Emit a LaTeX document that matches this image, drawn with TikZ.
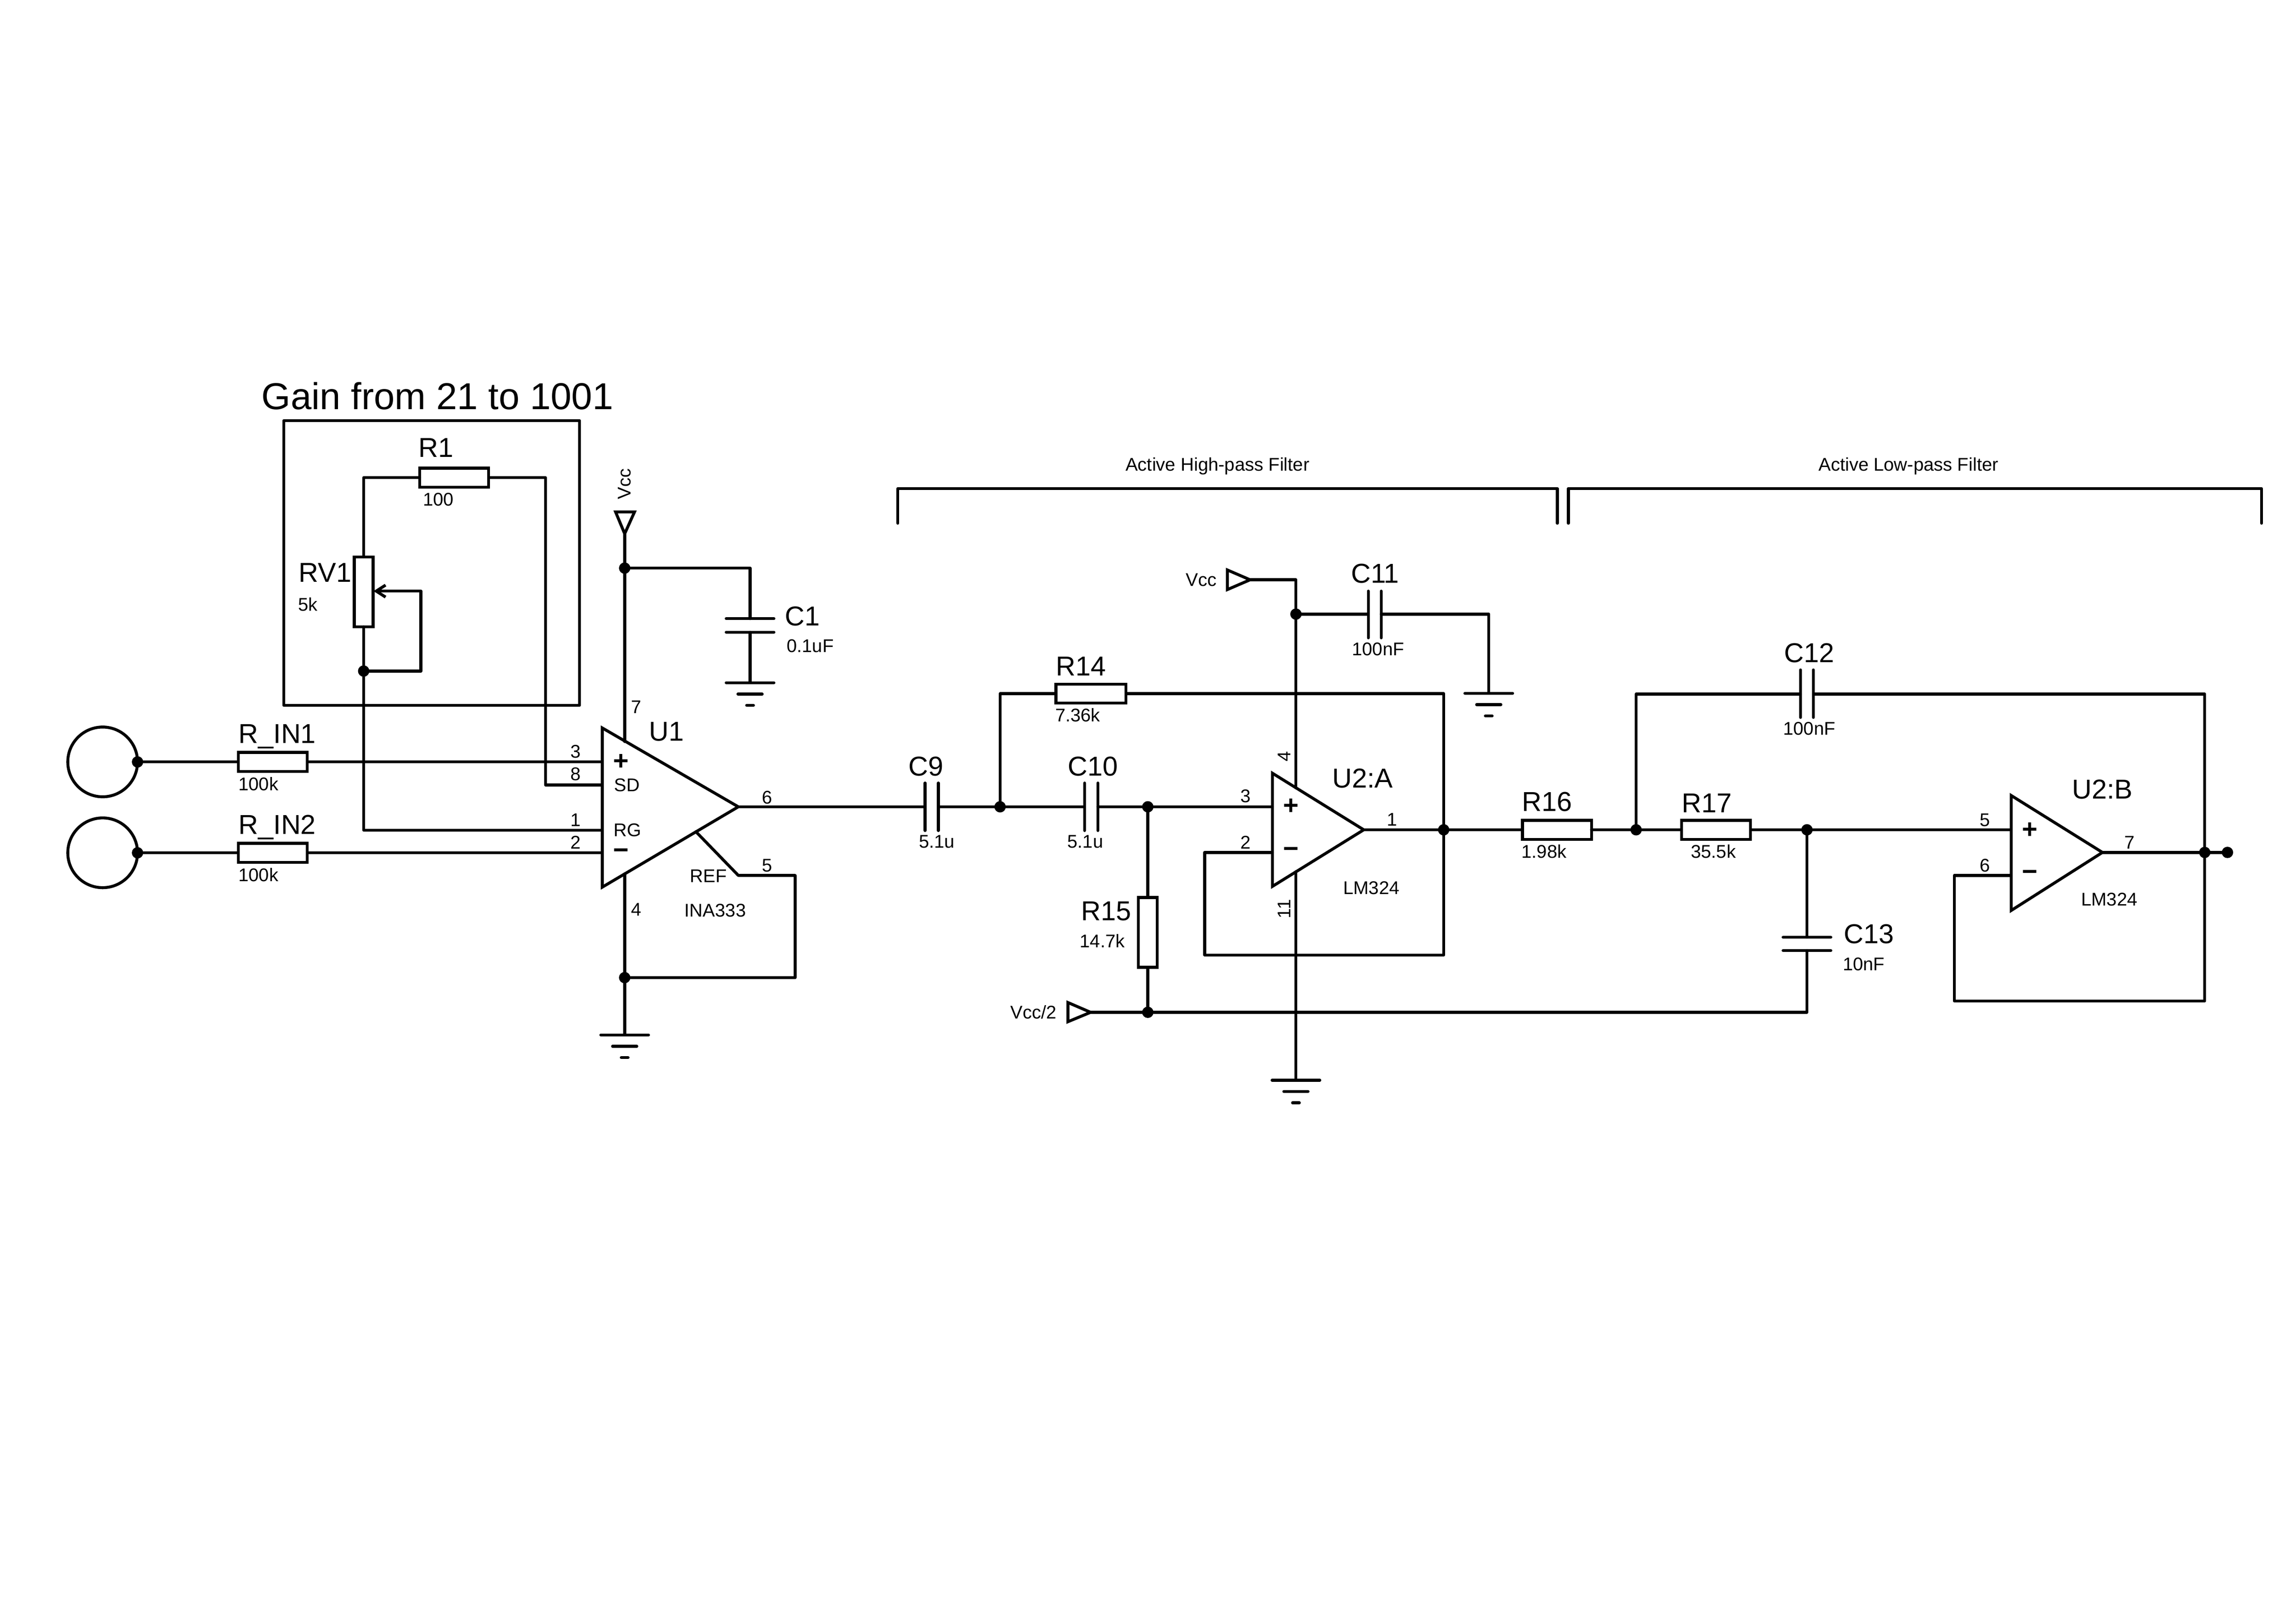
\documentclass[tikz,border=0pt]{standalone}
\usepackage{fontspec}
\setmainfont{Liberation Sans}
\usetikzlibrary{arrows.meta,calc}
\tikzset{
  wire/.style={line width=2.2pt,line cap=round,line join=round},
  res/.style={draw,line width=2.2pt,minimum width=1.82cm,minimum height=.5cm,inner sep=0pt,outer sep=0pt},
  vres/.style={draw,line width=2.2pt,minimum width=.5cm,minimum height=1.84cm,inner sep=0pt,outer sep=0pt},
  dotn/.style={circle,fill=black,minimum size=.3cm,inner sep=0pt,outer sep=0pt},
  ring/.style={circle,draw,line width=2.2pt,minimum size=1.84cm,inner sep=0pt,outer sep=0pt},
  bigt/.style={inner sep=0pt,yshift=.06cm,font=\fontsize{20.5}{24}\selectfont},
  smallt/.style={inner sep=0pt,yshift=.03cm,font=\fontsize{13.8}{16}\selectfont},
  titlet/.style={inner sep=0pt,font=\fontsize{28.1}{32}\selectfont},
  pmark/.style={inner sep=0pt,font=\bfseries\fontsize{20}{22}\selectfont},
}
% vertical plates, current runs left to right
\newcommand\capH[6]{% name, x1, x2, y, top, bottom
  \coordinate (#1a) at (#2,#4); \coordinate (#1b) at (#3,#4);
  \draw[wire] (#2,#5) -- (#2,#6); \draw[wire] (#3,#5) -- (#3,#6);}
% horizontal plates, current runs top to bottom
\newcommand\capV[6]{% name, x, y1, y2, left, right
  \coordinate (#1a) at (#2,#3); \coordinate (#1b) at (#2,#4);
  \draw[wire] (#5,#3) -- (#6,#3); \draw[wire] (#5,#4) -- (#6,#4);}
\newcommand\gnd[1]{%
  \draw[wire] (#1) ++(-63,0) -- ++(126,0);
  \draw[wire] (#1) ++(-32,30) -- ++(64,0);
  \draw[wire] (#1) ++(-9,60) -- ++(18,0);}
\begin{document}
\begin{tikzpicture}[x=0.01cm,y=-0.00995cm]
\useasboundingbox (0,-5.53) rectangle (6061,4276.9);
\fill[white] (0,-5.53) rectangle (6061,4276.9);

% ---------- gain box
\node[titlet] (gain) at (1155,1045) {Gain from 21 to 1001};
\draw[wire] (749,1110) rectangle (1530,1865);

% ---------- resistors
\node[res] (R1) at (1199,1261) {};
\node[res] (RIN1) at (720,2015) {};
\node[res] (RIN2) at (720,2256) {};
\node[vres] (RV1) at (960,1564) {};
\node[res,minimum width=1.85cm] (R14) at (2880,1834) {};
\node[vres] (R15) at (3030,2467) {};
\node[res] (R16) at (4110,2195) {};
\node[res] (R17) at (4530,2195) {};

% ---------- sources
\node[ring] (S1) at (271,2015) {};
\node[ring] (S2) at (271,2256) {};
\node[dotn] (dS1) at (S1.east) {};
\node[dotn] (dS2) at (S2.east) {};

% ---------- U1
\coordinate (U1t) at (1590,1925);
\coordinate (U1b) at (1590,2347);
\coordinate (U1o) at (1949,2134);
\draw[wire,line join=miter] (U1t) -- (U1o) -- (U1b) -- cycle;
\coordinate (U1p3) at (1590,2015);
\coordinate (U1p8) at (1590,2076);
\coordinate (U1p1) at (1590,2196);
\coordinate (U1p2) at (1590,2256);
\coordinate (U1p7) at (1649,1961);
\coordinate (U1p4) at (1649,2312);
\coordinate (U1p5) at (1837,2200);

% ---------- U2A
\coordinate (UAt) at (3359,2045);
\coordinate (UAb) at (3359,2345);
\coordinate (UAo) at (3600,2195);
\draw[wire,line join=miter] (UAt) -- (UAo) -- (UAb) -- cycle;
\coordinate (UAp3) at (3359,2134);
\coordinate (UAp2) at (3359,2255);
\coordinate (UAp4) at (3421,2084);
\coordinate (UAp11) at (3421,2306);

% ---------- U2B
\coordinate (UBt) at (5309,2104);
\coordinate (UBb) at (5309,2409);
\coordinate (UBo) at (5550,2255);
\draw[wire,line join=miter] (UBt) -- (UBo) -- (UBb) -- cycle;
\coordinate (UBp5) at (5309,2195);
\coordinate (UBp6) at (5309,2316);

% ---------- capacitors
\capV{C1}{1980}{1635}{1671}{1917}{2043}
\capH{C9}{2442}{2477}{2134}{2071}{2197}
\capH{C10}{2863}{2898}{2134}{2071}{2197}
\capH{C11}{3612}{3646}{1623}{1562}{1686}
\capH{C12}{4753}{4787}{1835}{1771}{1897}
\capV{C13}{4770}{2480}{2515}{4707}{4833}

% ---------- supply flags
\coordinate (VU1tl) at (1625,1352); \coordinate (VU1tr) at (1675,1352); \coordinate (VU1) at (1649,1410);
\draw[wire,line join=miter] (VU1tl) -- (VU1tr) -- (VU1) -- cycle;
\coordinate (VUAu) at (3240,1506); \coordinate (VUAl) at (3240,1558); \coordinate (VUA) at (3300,1532);
\draw[wire,line join=miter] (VUAu) -- (VUAl) -- (VUA) -- cycle;
\coordinate (VHu) at (2819,2653); \coordinate (VHl) at (2819,2704); \coordinate (VH) at (2879,2679);
\draw[wire,line join=miter] (VHu) -- (VHl) -- (VH) -- cycle;

% ---------- junctions
\node[dotn] (jV1) at (1649,1501) {};
\node[dotn] (jG1) at (1649,2587) {};
\node[dotn] (jRV) at (960,1774) {};
\node[dotn] (jA) at (2640,2134) {};
\node[dotn] (jB) at (3030,2134) {};
\node[dotn] (jC) at (3030,2679) {};
\node[dotn] (jV2) at (3421,1623) {};
\node[dotn] (jD) at (3811,2195) {};
\node[dotn] (jE) at (4319,2195) {};
\node[dotn] (jF) at (4770,2195) {};
\node[dotn] (jO) at (5820,2255) {};
\node[dotn] (jT) at (5880,2255) {};

% ---------- ground points and corners
\coordinate (G1) at (1649,2739);
\coordinate (GC1) at (1980,1805);
\coordinate (GC11) at (3930,1833);
\coordinate (GA) at (3421,2859);
\coordinate (REFk) at (1949,2316);
\coordinate (REFr) at (2099,2316);
\coordinate (WIP) at (986,1562);
\coordinate (WIPr) at (1111,1562);
\coordinate (R1r) at (1440,1261);
\coordinate (fbA) at (3180,2527);
\coordinate (fbB) at (5159,2649);
\gnd{G1} \gnd{GC1} \gnd{GC11} \gnd{GA}

% ---------- wires: input stage
\draw[wire] (dS1) -- (RIN1.west);
\draw[wire] (dS2) -- (RIN2.west);
\draw[wire] (RIN1.east) -- (U1p3);
\draw[wire] (RIN2.east) -- (U1p2);
\draw[wire] (RV1.north) |- (R1.west);
\draw[wire] (R1.east) -- (R1r) |- (U1p8);
\draw[wire] (RV1.south) -- (jRV) |- (U1p1);
\draw[wire,{Straight Barb[length=7pt,width=9pt]}-] (WIP) -- (WIPr) |- (jRV);
\draw[wire] (VU1) -- (jV1) -- (U1p7);
\draw[wire] (jV1) -| (C1a);
\draw[wire] (C1b) -- (GC1);
\draw[wire] (U1p4) -- (jG1) -- (G1);
\draw[wire] (U1p5) -- (REFk) -- (REFr) |- (jG1);

% ---------- wires: high-pass
\draw[wire] (U1o) -- (C9a);
\draw[wire] (C9b) -- (jA) -- (C10a);
\draw[wire] (C10b) -- (jB) -- (UAp3);
\draw[wire] (jA) |- (R14.west);
\draw[wire] (R14.east) -| (jD);
\draw[wire] (jB) -- (R15.north);
\draw[wire] (R15.south) -- (jC);
\draw[wire] (VH) -- (jC);
\draw[wire] (jC) -| (C13b);
\draw[wire] (UAo) -- (jD) -- (R16.west);
\draw[wire] (jD) |- (fbA) |- (UAp2);
\draw[wire] (VUA) -| (jV2);
\draw[wire] (jV2) -- (UAp4);
\draw[wire] (UAp11) -- (GA);
\draw[wire] (jV2) -- (C11a);
\draw[wire] (C11b) -| (GC11);

% ---------- wires: low-pass
\draw[wire] (R16.east) -- (jE) -- (R17.west);
\draw[wire] (R17.east) -- (jF) -- (UBp5);
\draw[wire] (jE) |- (C12a);
\draw[wire] (C12b) -| (jO);
\draw[wire] (jF) -- (C13a);
\draw[wire] (UBo) -- (jO) -- (jT);
\draw[wire] (jO) |- (fbB) |- (UBp6);

% ---------- brackets
\coordinate (BHa) at (2370,1382); \coordinate (BHb) at (2370,1290);
\coordinate (BHc) at (4111,1290); \coordinate (BHd) at (4111,1382);
\coordinate (BLa) at (4140,1382); \coordinate (BLb) at (4140,1290);
\coordinate (BLc) at (5970,1290); \coordinate (BLd) at (5970,1382);
\draw[wire] (BHa) -- (BHb) -- (BHc) -- (BHd);
\draw[wire] (BLa) -- (BLb) -- (BLc) -- (BLd);
\node[smallt] (tHP) at (3214,1234) {Active High-pass Filter};
\node[smallt] (tLP) at (5038,1234) {Active Low-pass Filter};

% ---------- labels: big
\node[bigt] (lR1) at (1151,1188) {R1};
\node[bigt] (lRV1) at (858,1519) {RV1};
\node[bigt,anchor=west] (lRIN1) at (629,1954) {R\_IN1};
\node[bigt,anchor=west] (lRIN2) at (629,2195) {R\_IN2};
\node[bigt] (lU1) at (1760,1941) {U1};
\node[bigt] (lC1) at (2118,1635) {C1};
\node[bigt] (lC9) at (2444,2033) {C9};
\node[bigt] (lC10) at (2885,2033) {C10};
\node[bigt] (lC11) at (3630,1522) {C11};
\node[bigt] (lR14) at (2854,1768) {R14};
\node[bigt] (lR15) at (2920,2417) {R15};
\node[bigt] (lUA) at (3597,2065) {U2:A};
\node[bigt] (lR16) at (4084,2127) {R16};
\node[bigt] (lR17) at (4506,2130) {R17};
\node[bigt] (lC12) at (4776,1732) {C12};
\node[bigt] (lC13) at (4934,2478) {C13};
\node[bigt] (lUB) at (5550,2094) {U2:B};

% ---------- labels: small
\node[smallt] (v100) at (1157,1322) {100};
\node[smallt] (v5k) at (813,1600) {5k};
\node[smallt,anchor=west] (vIN1) at (629,2077) {100k};
\node[smallt,anchor=west] (vIN2) at (629,2318) {100k};
\node[smallt,anchor=west] (vC1) at (2076,1710) {0.1uF};
\node[smallt] (vC9) at (2473,2230) {5.1u};
\node[smallt] (vC10) at (2865,2230) {5.1u};
\node[smallt] (vC11) at (3638,1719) {100nF};
\node[smallt] (vR14) at (2845,1894) {7.36k};
\node[smallt] (vR15) at (2910,2493) {14.7k};
\node[smallt] (vR16) at (4076,2256) {1.98k};
\node[smallt] (vR17) at (4523,2256) {35.5k};
\node[smallt] (vC12) at (4776,1930) {100nF};
\node[smallt] (vC13) at (4920,2554) {10nF};
\node[smallt] (tINA) at (1888,2412) {INA333};
\node[smallt] (tLMa) at (3620,2352) {LM324};
\node[smallt] (tLMb) at (5568,2383) {LM324};
\node[smallt] (tVcc1) at (1649,1281) [rotate=90] {Vcc};
\node[smallt] (tVcc2) at (3171,1535) {Vcc};
\node[smallt] (tVcc3) at (2728,2682) {Vcc/2};
\node[smallt] (tSD) at (1655,2079) {SD};
\node[smallt] (tRG) at (1657,2199) {RG};
\node[smallt] (tREF) at (1870,2320) {REF};

% ---------- pin numbers
\node[smallt] (p3) at (1520,1990) {3};
\node[smallt] (p8) at (1520,2050) {8};
\node[smallt] (p1) at (1520,2172) {1};
\node[smallt] (p2) at (1520,2232) {2};
\node[smallt] (p6) at (2025,2112) {6};
\node[smallt] (p5) at (2025,2293) {5};
\node[smallt] (p7) at (1680,1872) {7};
\node[smallt] (p4) at (1680,2409) {4};
\node[smallt] (pa3) at (3288,2109) {3};
\node[smallt] (pa2) at (3288,2231) {2};
\node[smallt] (pa1) at (3675,2171) {1};
\node[smallt,rotate=90] (pa4) at (3390,2004) {4};
\node[smallt,rotate=90] (pa11) at (3390,2408) {11};
\node[smallt] (pb5) at (5240,2172) {5};
\node[smallt] (pb6) at (5240,2292) {6};
\node[smallt] (pb7) at (5622,2232) {7};

% ---------- input polarity marks
\node[pmark] (m1) at (1640,2015) {+};
\node[pmark] (m2) at (1640,2258) {\textminus};
\node[pmark] (m3) at (3408,2134) {+};
\node[pmark] (m4) at (3408,2255) {\textminus};
\node[pmark] (m5) at (5358,2197) {+};
\node[pmark] (m6) at (5358,2316) {\textminus};
\end{tikzpicture}
\end{document}
